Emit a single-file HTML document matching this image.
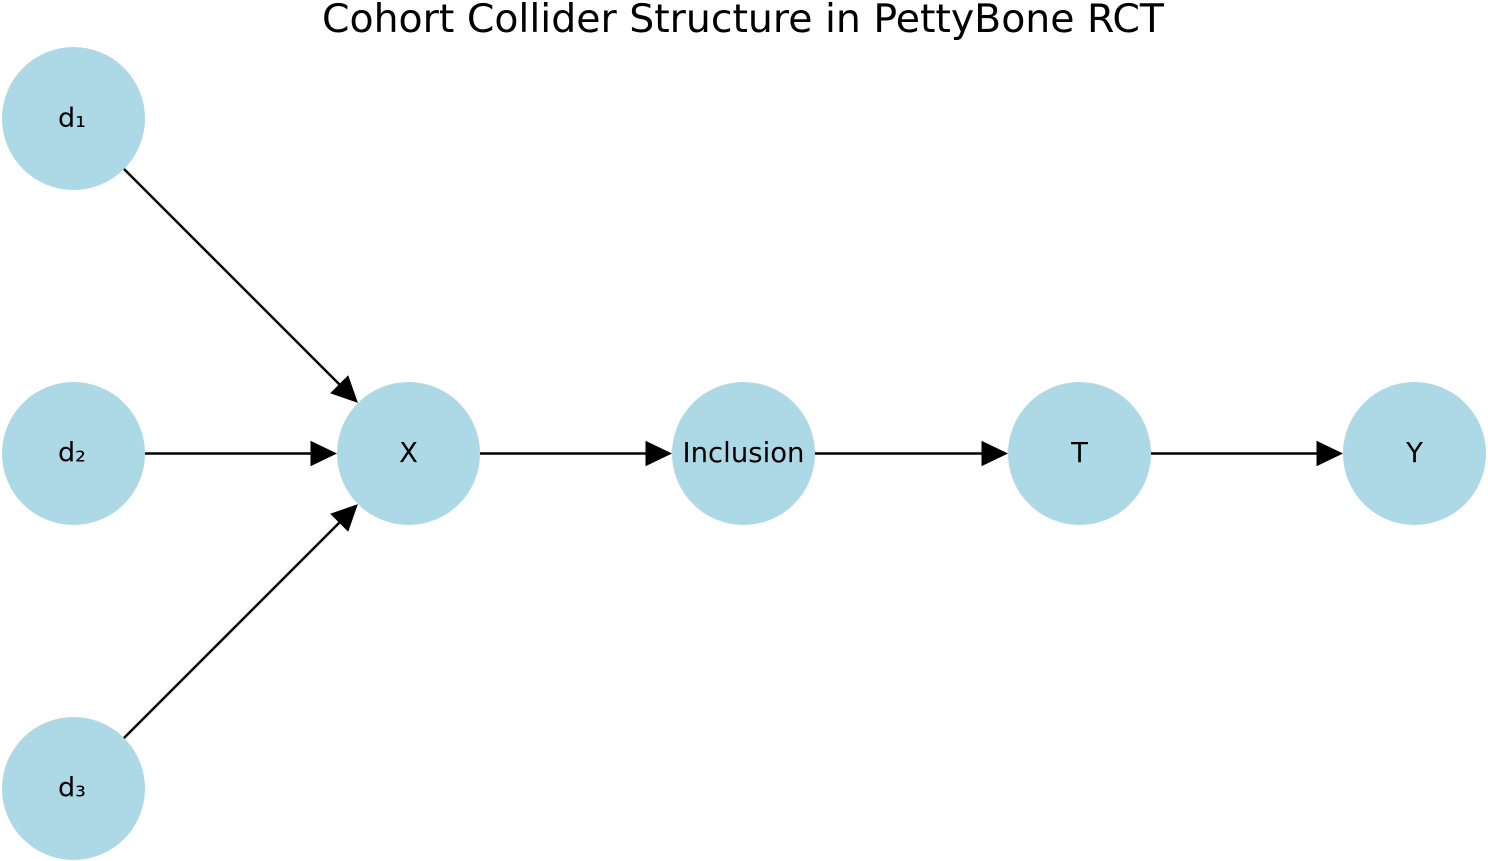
<!DOCTYPE html>
<html>
<head>
<meta charset="utf-8">
<style>
  html, body { margin:0; padding:0; background:#ffffff; }
  body { width:1488px; height:861px; overflow:hidden; }
  svg { display:block; }
  text { font-family: "DejaVu Sans", "Liberation Sans", sans-serif; fill:#000; }
</style>
</head>
<body>
<svg width="1488" height="861" viewBox="0 0 1488 861" xmlns="http://www.w3.org/2000/svg">
  <rect width="1488" height="861" fill="#ffffff"/>

  <!-- Title -->
  <text x="743" y="32" font-size="39.4" text-anchor="middle">Cohort Collider Structure in PettyBone RCT</text>

  <!-- Nodes -->
  <g fill="#add8e6">
    <circle cx="73.5" cy="118.5" r="71.5"/>
    <circle cx="73.5" cy="453.5" r="71.5"/>
    <circle cx="73.5" cy="788.5" r="71.5"/>
    <circle cx="408.5" cy="453.5" r="71.5"/>
    <circle cx="743.5" cy="453.5" r="71.5"/>
    <circle cx="1079.5" cy="453.5" r="71.5"/>
    <circle cx="1414.5" cy="453.5" r="71.5"/>
  </g>

  <!-- Edges -->
  <g stroke="#000" stroke-width="2.5" fill="none">
    <line x1="124" y1="169" x2="340" y2="385"/>
    <line x1="145" y1="453.5" x2="312" y2="453.5"/>
    <line x1="124" y1="738" x2="340" y2="522"/>
    <line x1="480" y1="453.5" x2="647" y2="453.5"/>
    <line x1="815" y1="453.5" x2="983" y2="453.5"/>
    <line x1="1151" y1="453.5" x2="1318" y2="453.5"/>
  </g>
  <g fill="#000">
    <polygon points="357.9,402.9 330.2,393.2 348.2,375.2"/>
    <polygon points="337,453.5 310.5,440.8 310.5,466.2"/>
    <polygon points="357.9,504.1 348.2,531.8 330.2,513.8"/>
    <polygon points="672,453.5 645.5,440.8 645.5,466.2"/>
    <polygon points="1008,453.5 981.5,440.8 981.5,466.2"/>
    <polygon points="1343,453.5 1316.5,440.8 1316.5,466.2"/>
  </g>

  <!-- Labels -->
  <g font-size="27" text-anchor="middle">
    <text x="72" y="127">d₁</text>
    <text x="72" y="461.5">d₂</text>
    <text x="72" y="796.5">d₃</text>
  </g>
  <g font-size="27.5" text-anchor="middle">
    <text x="408.5" y="462">X</text>
    <text x="743.5" y="462">Inclusion</text>
    <text x="1079.5" y="462">T</text>
    <text x="1414.5" y="462">Y</text>
  </g>
</svg>
</body>
</html>
